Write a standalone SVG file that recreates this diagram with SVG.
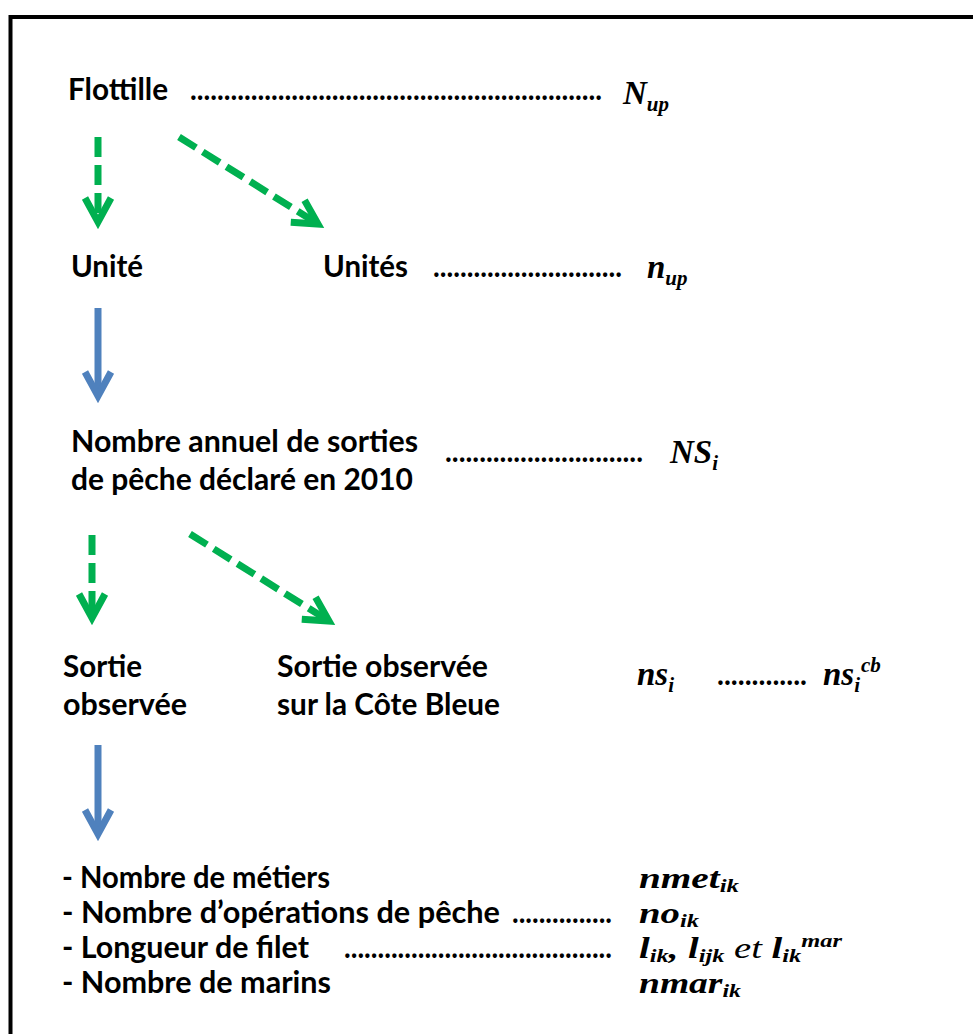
<svg xmlns="http://www.w3.org/2000/svg" width="973" height="1034" viewBox="0 0 973 1034">
<style>
.lbl{font-family:Lato,"Open Sans","Liberation Sans",sans-serif;font-weight:700;font-size:30px;fill:#000}
.dots{font-family:Lato,"Open Sans","Liberation Sans",sans-serif;font-weight:700;font-size:30px;fill:#000}
.m{font-family:"Liberation Serif","DejaVu Serif",serif;font-style:italic;font-weight:700;font-size:33px;fill:#000}
.m2{font-family:"Liberation Serif","DejaVu Serif",serif;font-style:italic;font-weight:700;font-size:30px;fill:#000}
.s{font-size:21px}
.s2{font-size:19px}
.et{font-weight:400}
.g{stroke:#00B050;stroke-width:7;fill:none;stroke-dasharray:20 8}
.b{stroke:#4F81BD;stroke-width:7;fill:none}
</style>
<defs>
<marker id="ag" markerUnits="userSpaceOnUse" markerWidth="60" markerHeight="60" refX="0" refY="0" orient="auto" overflow="visible">
<path d="M -24 -13 L 0 0 L -24 13" fill="none" stroke="#00B050" stroke-width="7" stroke-linejoin="miter" stroke-dasharray="none"/>
</marker>
<marker id="ab" markerUnits="userSpaceOnUse" markerWidth="60" markerHeight="60" refX="0" refY="0" orient="auto" overflow="visible">
<path d="M -24 -13 L 0 0 L -24 13" fill="none" stroke="#4F81BD" stroke-width="7" stroke-linejoin="miter" stroke-dasharray="none"/>
</marker>
</defs>
<rect width="973" height="1034" fill="#fff"/>
<path d="M 10.5 1034 L 10.5 17 L 973 17" fill="none" stroke="#000" stroke-width="4"/>

<g id="connectors">
<line class="g" x1="98" y1="137" x2="98" y2="222" marker-end="url(#ag)"/>
<line class="g" x1="179" y1="137" x2="318" y2="224" marker-end="url(#ag)"/>
<line class="b" x1="98" y1="308" x2="98" y2="396" marker-end="url(#ab)"/>
<line class="g" x1="92" y1="535" x2="92" y2="618" marker-end="url(#ag)"/>
<line class="g" x1="190" y1="534" x2="329" y2="621" marker-end="url(#ag)"/>
<line class="b" x1="98" y1="745" x2="98" y2="834" marker-end="url(#ab)"/>
</g>

<g id="flottille">
<text class="lbl" x="68" y="100" textLength="100" lengthAdjust="spacingAndGlyphs">Flottille</text>
<text class="dots" x="190" y="100" textLength="412" lengthAdjust="spacingAndGlyphs">.............................................................</text>
<text class="m" x="623" y="104">N<tspan class="s" dy="7">up</tspan></text>
</g>

<g id="unite">
<text class="lbl" x="71" y="277" textLength="72" lengthAdjust="spacingAndGlyphs">Unité</text>
</g>

<g id="unites">
<text class="lbl" x="323" y="277" textLength="85" lengthAdjust="spacingAndGlyphs">Unités</text>
<text class="dots" x="433" y="277" textLength="189" lengthAdjust="spacingAndGlyphs">............................</text>
<text class="m" x="647" y="278">n<tspan class="s" dy="7">up</tspan></text>
</g>

<g id="nombre-annuel">
<text class="lbl" x="71" y="452" textLength="347" lengthAdjust="spacingAndGlyphs">Nombre annuel de sorties</text>
<text class="lbl" x="71" y="490" textLength="342" lengthAdjust="spacingAndGlyphs">de pêche déclaré en 2010</text>
<text class="dots" x="445" y="462" textLength="198" lengthAdjust="spacingAndGlyphs">.............................</text>
<text class="m" x="670" y="463">NS<tspan class="s" dy="7">i</tspan></text>
</g>

<g id="sortie-observee">
<text class="lbl" x="63" y="677" textLength="79" lengthAdjust="spacingAndGlyphs">Sortie</text>
<text class="lbl" x="63" y="715" textLength="124" lengthAdjust="spacingAndGlyphs">observée</text>
</g>

<g id="sortie-cote-bleue">
<text class="lbl" x="277" y="677" textLength="211" lengthAdjust="spacingAndGlyphs">Sortie observée</text>
<text class="lbl" x="277" y="715" textLength="223" lengthAdjust="spacingAndGlyphs">sur la Côte Bleue</text>
<text class="m" x="637" y="685">ns<tspan class="s" dy="7">i</tspan></text>
<text class="dots" x="717" y="685" textLength="90" lengthAdjust="spacingAndGlyphs">.............</text>
<text class="m" x="823" y="685">ns<tspan class="s" dy="7">i</tspan><tspan class="s" dx="1" dy="-20">cb</tspan></text>
</g>

<g id="variables">
<text class="lbl" x="62" y="888" textLength="268" lengthAdjust="spacingAndGlyphs">- Nombre de métiers</text>
<text class="m2" x="639" y="888" textLength="100" lengthAdjust="spacingAndGlyphs">nmet<tspan class="s2" dy="4">ik</tspan></text>
<text class="lbl" x="62" y="923" textLength="438" lengthAdjust="spacingAndGlyphs">- Nombre d’opérations de pêche</text>
<text class="dots" x="512" y="923" textLength="100" lengthAdjust="spacingAndGlyphs">...............</text>
<text class="m2" x="639" y="923" textLength="60" lengthAdjust="spacingAndGlyphs">no<tspan class="s2" dy="4">ik</tspan></text>
<text class="lbl" x="62" y="958" textLength="247" lengthAdjust="spacingAndGlyphs">- Longueur de filet</text>
<text class="dots" x="344" y="958" textLength="268" lengthAdjust="spacingAndGlyphs">........................................</text>
<text class="m2" x="639" y="958" textLength="203" lengthAdjust="spacingAndGlyphs">l<tspan class="s2" dy="4">ik</tspan><tspan dy="-4">, l</tspan><tspan class="s2" dy="4">ijk</tspan><tspan class="et" dy="-4"> et </tspan>l<tspan class="s2" dy="4">ik</tspan><tspan class="s2" dx="0" dy="-15">mar</tspan></text>
<text class="lbl" x="62" y="993" textLength="269" lengthAdjust="spacingAndGlyphs">- Nombre de marins</text>
<text class="m2" x="639" y="993" textLength="102" lengthAdjust="spacingAndGlyphs">nmar<tspan class="s2" dy="4">ik</tspan></text>
</g>
</svg>
